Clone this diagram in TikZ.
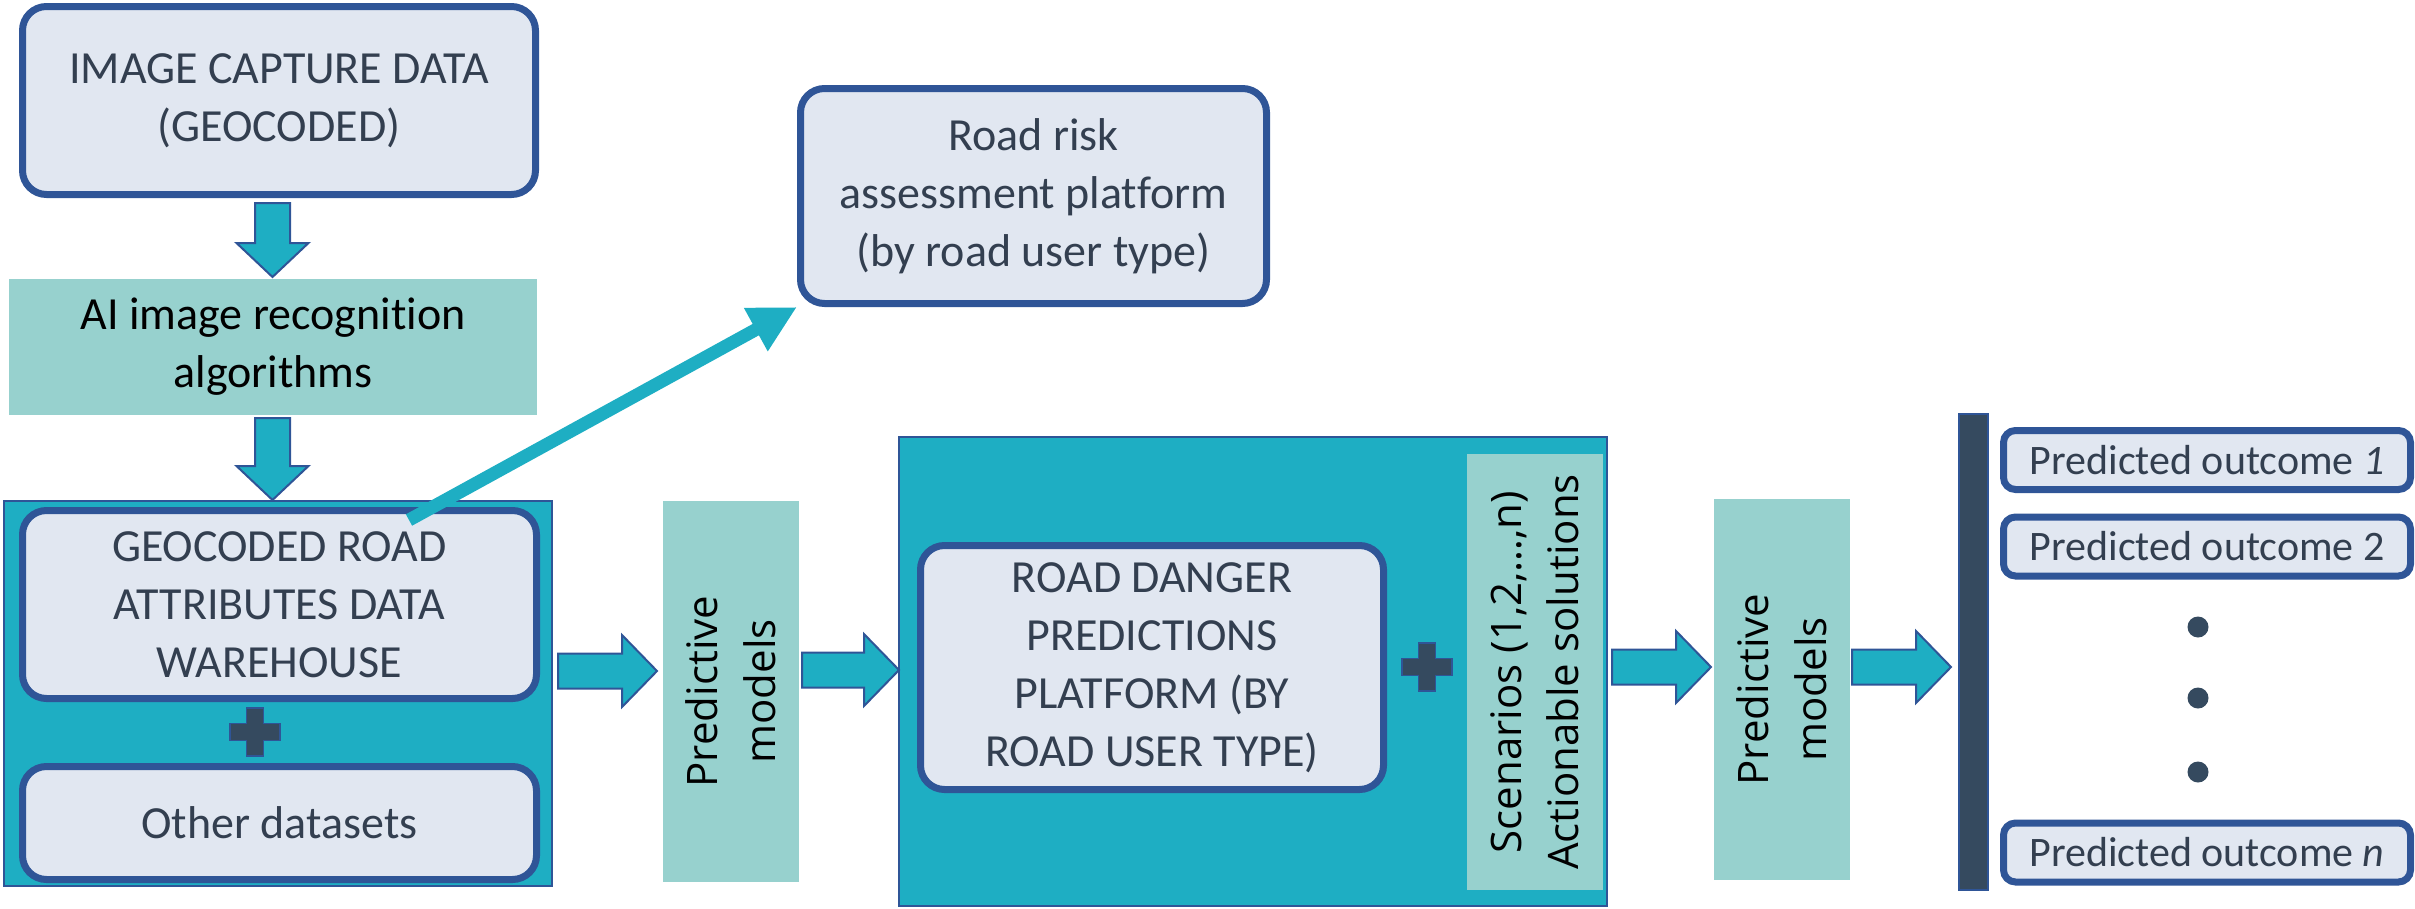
\documentclass[tikz,border=0pt]{standalone}
\usepackage{fontspec}
\setmainfont{Carlito}[Ligatures=NoCommon]
\newfontfamily\rotfont{Open Sans}[Ligatures=NoCommon]
\usetikzlibrary{calc,arrows.meta}
\definecolor{boxfill}{HTML}{E1E7F1}
\definecolor{boxline}{HTML}{2F5597}
\definecolor{txt}{HTML}{333F50}
\definecolor{tealc}{HTML}{1EAEC3}
\definecolor{lteal}{HTML}{97D1CE}
\definecolor{darkbar}{HTML}{354A5F}
\tikzset{
  roundbox/.style={draw=boxline, line width=7pt, fill=boxfill, rounded corners=24pt,
    text=txt, align=center, inner sep=0pt, font=\fontsize{46}{58}\selectfont},
  outbox/.style={roundbox, rounded corners=12pt, minimum width=407pt, minimum height=59pt,
    font=\fontsize{42}{50}\selectfont},
  flatbox/.style={fill=lteal, text=black, align=center, inner sep=0pt,
    font=\fontsize{46}{58}\selectfont},
  rotbox/.style={flatbox, rotate=90, font=\rotfont\fontsize{42}{58}\selectfont},
  container/.style={draw=boxline, line width=2.5pt, fill=tealc, inner sep=0pt},
  barrow/.style={draw=boxline, line width=2pt, fill=tealc, line join=miter},
  dotnode/.style={circle, fill=darkbar, minimum size=21pt, inner sep=0pt},
  plussign/.pic={\draw[line width=1.5pt, draw=boxline, fill=darkbar]
    (-25,-8.5) -- (-8.5,-8.5) -- (-8.5,-24) -- (8.5,-24) -- (8.5,-8.5) -- (25,-8.5)
    -- (25,8.5) -- (8.5,8.5) -- (8.5,24) -- (-8.5,24) -- (-8.5,8.5) -- (-25,8.5) -- cycle;}
}
\newcommand\rblockarrow[2]{%
  \draw[barrow] ($(#1)+(0,-17.5)$) -- ($(#2)+(-35,-17.5)$) -- ($(#2)+(-35,-36)$) -- (#2)
    -- ($(#2)+(-35,36)$) -- ($(#2)+(-35,17.5)$) -- ($(#1)+(0,17.5)$) -- cycle;}
\newcommand\dblockarrow[2]{%
  \draw[barrow] ($(#1)+(-17.5,0)$) -- ($(#2)+(-17.5,-34)$) -- ($(#2)+(-36,-34)$) -- (#2)
    -- ($(#2)+(36,-34)$) -- ($(#2)+(17.5,-34)$) -- ($(#1)+(17.5,0)$) -- cycle;}
\begin{document}
\begin{tikzpicture}[x=1pt,y=-1pt]
\useasboundingbox (0,0) rectangle (2415,908);

% left column
\node[roundbox, minimum width=513pt, minimum height=188pt] (cap) at (279,100.5)
  {IMAGE CAPTURE DATA\\(GEOCODED)};
\node[flatbox, minimum width=528pt, minimum height=136pt] (ai) at (273,347)
  {AI image recognition\\algorithms};
\node[container, minimum width=548pt, minimum height=385pt] (cont1) at (278,693.5) {};
\node[roundbox, minimum width=514pt, minimum height=188pt] (geo) at (279.5,604.5)
  {GEOCODED ROAD\\ATTRIBUTES DATA\\WAREHOUSE};
\pic at (255,732) {plussign};
\node[roundbox, minimum width=514pt, minimum height=113pt] (other) at (279.5,823)
  {Other datasets};

% risk platform
\node[roundbox, minimum width=466pt, minimum height=215pt] (risk) at (1033.5,196)
  {Road risk\\assessment platform\\(by road user type)};

% predictive models 1
\node[rotbox, minimum width=381pt, minimum height=136pt] (pred1) at (731,691.5)
  {Predictive\\models};

% middle container
\node[container, minimum width=708pt, minimum height=469pt] (cont2) at (1253,671.5) {};
\node[roundbox, minimum width=463pt, minimum height=244pt] (danger) at (1152,667.5)
  {ROAD DANGER\\PREDICTIONS\\PLATFORM (BY\\ROAD USER TYPE)};
\pic at (1427,667) {plussign};
\node[rotbox, minimum width=436pt, minimum height=136pt, font=\rotfont\fontsize{42}{57}\selectfont]
  (scen) at (1535,672) {Scenarios (1,2,…,n)\\Actionable solutions};

% predictive models 2
\node[rotbox, minimum width=381pt, minimum height=136pt] (pred2) at (1782,689.5)
  {Predictive\\models};

% bar and outcomes
\node[draw=boxline, line width=1.5pt, fill=darkbar, minimum width=29pt, minimum height=476pt,
  inner sep=0pt] (bar) at (1973.5,652) {};
\node[outbox] (o1) at (2207,460) {Predicted outcome \textit{1}};
\node[outbox] (o2) at (2207,546.5) {Predicted outcome 2};
\node[outbox] (on) at (2207,852.5) {Predicted outcome \textit{n}};
\node[dotnode] (d1) at (2198,627) {};
\node[dotnode] (d2) at (2198,698) {};
\node[dotnode] (d3) at (2198,772) {};

% block arrows
\coordinate (a1s) at (272.5,203);  \coordinate (a1e) at (272.5,277);
\coordinate (a2s) at (272.5,418);  \coordinate (a2e) at (272.5,500);
\dblockarrow{a1s}{a1e}
\dblockarrow{a2s}{a2e}
\coordinate (r1s) at (558,671);  \coordinate (r1e) at (657,671);
\coordinate (r2s) at (802,670);  \coordinate (r2e) at (899,670);
\coordinate (r3s) at (1612,667); \coordinate (r3e) at (1711,667);
\coordinate (r4s) at (1852,667); \coordinate (r4e) at (1951,667);
\rblockarrow{r1s}{r1e}
\rblockarrow{r2s}{r2e}
\rblockarrow{r3s}{r3e}
\rblockarrow{r4s}{r4e}

% diagonal arrow
\coordinate (dstart) at (409,520);
\draw[line width=13pt, tealc, -{Triangle[length=47pt,width=46pt]}] (dstart) -- (risk.south west);
\end{tikzpicture}
\end{document}
